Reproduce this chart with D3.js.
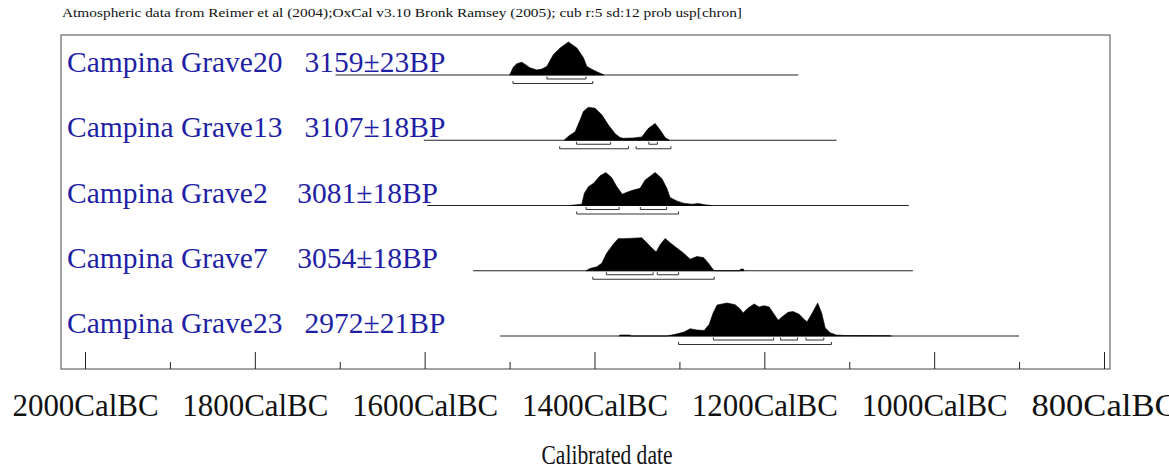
<!DOCTYPE html>
<html>
<head>
<meta charset="utf-8">
<script src="https://cdn.jsdelivr.net/npm/d3@7"></script>
<style>
  html, body { margin: 0; padding: 0; background: #fff; }
  svg { display: block; }
  text { font-family: "Liberation Serif", "Times New Roman", serif; }
</style>
</head>
<body>
<svg id="chart" width="1169" height="470"></svg>
<script>
// ---------- DATA ----------
const titleText = "Atmospheric data from Reimer et al (2004);OxCal v3.10 Bronk Ramsey (2005); cub r:5 sd:12 prob usp[chron]";
const axisTitle = "Calibrated date";

const sampleNames = ["Campina Grave20", "Campina Grave13", "Campina Grave2", "Campina Grave7", "Campina Grave23"];
const sampleDates = ["3159\u00B123BP", "3107\u00B118BP", "3081\u00B118BP", "3054\u00B118BP", "2972\u00B121BP"];

// extent of plotted calibration range (years BC)
const lineRanges = [[1705, 1160], [1601, 1115], [1597, 1030], [1543, 1025], [1511, 900]];

// probability distributions (years BC, relative probability)
const g20Years = [1500, 1495.5, 1491.5, 1485.6, 1476, 1468, 1462, 1456.2, 1448.4, 1440.5, 1430.7, 1420.8, 1413, 1409, 1403.2, 1397.3, 1388.7];
const g20Prob  = [0, 0.24, 0.34, 0.39, 0.22, 0.155, 0.18, 0.26, 0.62, 0.82, 1.0, 0.82, 0.52, 0.26, 0.175, 0.1, 0];

const g13Years = [1435.8, 1430.7, 1422.8, 1417, 1413.1, 1407.2, 1399.3, 1391.4, 1383.6, 1375.7, 1369.8, 1366, 1354.2, 1344.3, 1336.5, 1328.6, 1322.7, 1316.8, 1311.8];
const g13Prob  = [0, 0.12, 0.26, 0.61, 0.87, 1.0, 0.97, 0.77, 0.46, 0.2, 0.08, 0.06, 0.07, 0.1, 0.36, 0.51, 0.31, 0.08, 0];

const g2Years = [1429, 1415, 1411.9, 1407.2, 1401.3, 1393.4, 1386.7, 1379.6, 1373.7, 1367.2, 1362, 1354.2, 1346.3, 1340.4, 1328.6, 1320.7, 1314.8, 1311, 1303.1, 1295.3, 1285.4, 1277.6, 1269.7, 1261.8];
const g2Prob  = [0, 0.04, 0.37, 0.57, 0.67, 0.9, 1.0, 0.84, 0.57, 0.34, 0.4, 0.47, 0.52, 0.77, 1.0, 0.82, 0.52, 0.24, 0.14, 0.07, 0.04, 0.06, 0.02, 0];

const g7Years = [1410.2, 1405.2, 1397.3, 1391.4, 1385.5, 1377.7, 1371.8, 1367.8, 1360, 1344.3, 1338.4, 1332.5, 1327.4, 1322.7, 1316.8, 1311, 1303.1, 1295.3, 1287.4, 1279.5, 1271.7, 1265.8, 1259.9, 1257.9, 1229, 1228, 1224.5, 1224];
const g7Prob  = [0, 0.07, 0.12, 0.23, 0.54, 0.81, 0.98, 0.97, 0.98, 1.0, 0.85, 0.69, 0.57, 0.79, 0.98, 0.85, 0.69, 0.54, 0.35, 0.43, 0.4, 0.23, 0.02, 0, 0, 0.05, 0.05, 0];

const g23Years = [1371, 1370, 1358, 1357, 1314.8, 1305.1, 1294.5, 1287.4, 1279.2, 1270.9, 1265, 1260.3, 1255.6, 1243.8, 1234.4, 1228.5, 1225, 1219.1, 1212, 1206.1, 1200.2, 1194.3, 1188.5, 1183.7, 1179, 1172, 1166.1, 1159, 1153.1, 1149.6, 1143.7, 1137.2, 1132.5, 1128.4, 1122.5, 1115.4, 1104.8, 1051.8, 1050.6];
const g23Prob  = [0, 0.03, 0.03, 0, 0, 0.05, 0.12, 0.22, 0.18, 0.17, 0.35, 0.7, 0.94, 1.0, 0.95, 0.82, 0.7, 0.85, 0.97, 0.88, 0.92, 0.88, 0.66, 0.48, 0.58, 0.72, 0.74, 0.66, 0.5, 0.43, 0.69, 1.0, 0.7, 0.25, 0.1, 0.03, 0.015, 0.01, 0];

const distYears = [g20Years, g13Years, g2Years, g7Years, g23Years];
const distProb  = [g20Prob, g13Prob, g2Prob, g7Prob, g23Prob];

// highest probability ranges (years BC)
const ranges68 = [
  [[1456, 1410]],
  [[1421, 1381], [1336, 1326]],
  [[1410, 1371], [1346, 1315]],
  [[1386, 1331], [1326, 1301]],
  [[1260, 1189], [1181, 1161], [1151, 1130]]
];
const ranges95 = [
  [[1496, 1402]],
  [[1441, 1360], [1351, 1310]],
  [[1421, 1301]],
  [[1402, 1259]],
  [[1301, 1121]]
];

const tickYears = d3.range(2000, 799, -100);
const labelYears = [2000, 1800, 1600, 1400, 1200, 1000, 800];

// ---------- LAYOUT ----------
const svg = d3.select("#chart");
const box = { left: 61, top: 35, right: 1110, bottom: 369 };
const x = d3.scaleLinear().domain([2000, 800]).range([85, 1104]);
const rowY = d3.scaleLinear().domain([0, 4]).range([75, 336]);
const peakH = 33;
const ink = "#222";

svg.append("rect").attr("width", 1169).attr("height", 470).attr("fill", "#fff");

// title
svg.append("text")
  .attr("x", 62).attr("y", 17)
  .attr("font-size", 12)
  .attr("textLength", 680).attr("lengthAdjust", "spacingAndGlyphs")
  .attr("fill", "#111")
  .text(titleText);

// frame
svg.append("rect")
  .attr("x", box.left).attr("y", box.top)
  .attr("width", box.right - box.left).attr("height", box.bottom - box.top)
  .attr("fill", "none").attr("stroke", "#666").attr("stroke-width", 1.2);

// rows
sampleNames.forEach((name, i) => {
  const y0 = rowY(i);
  const g = svg.append("g");

  g.append("text")
    .attr("x", 67).attr("y", y0 - 3)
    .attr("font-size", 29.5)
    .attr("fill", "#1f1fa6")
    .style("white-space", "pre")
    .attr("xml:space", "preserve")
    .text(name.padEnd(18, " ") + sampleDates[i]);

  g.append("line")
    .attr("x1", x(lineRanges[i][0])).attr("x2", x(lineRanges[i][1]))
    .attr("y1", y0).attr("y2", y0)
    .attr("stroke", "#222").attr("stroke-width", 1);

  const pts = distYears[i].map((yr, k) => [yr, distProb[i][k]]);
  const area = d3.area()
    .x(d => x(d[0]))
    .y0(y0)
    .y1(d => y0 - d[1] * peakH)
    .curve(d3.curveLinear);
  g.append("path").datum(pts).attr("d", area).attr("fill", "#000").attr("stroke", "#000").attr("stroke-width", 0.6);

  const bracket = (r, yy, h) => `M${x(r[0])},${yy - h}V${yy}H${x(r[1])}V${yy - h}`;
  ranges68[i].forEach(r => {
    g.append("path").attr("d", bracket(r, y0 + 4, 2.5)).attr("fill", "none").attr("stroke", "#333").attr("stroke-width", 1);
  });
  ranges95[i].forEach(r => {
    g.append("path").attr("d", bracket(r, y0 + 8.5, 2.5)).attr("fill", "none").attr("stroke", "#333").attr("stroke-width", 1);
  });
});

// axis
const axis = d3.axisBottom(x)
  .tickValues(tickYears)
  .tickSize(-17)
  .tickSizeOuter(0)
  .tickFormat(d => labelYears.includes(d) ? d + "CalBC" : "");

const ag = svg.append("g").attr("transform", `translate(0,${box.bottom})`).call(axis);
ag.attr("font-family", null);
ag.select(".domain").remove();
ag.selectAll(".tick line")
  .attr("y2", d => labelYears.includes(d) ? -17 : -7)
  .attr("stroke", ink);
ag.selectAll(".tick text")
  .attr("y", 47).attr("dy", 0)
  .attr("fill", "#111")
  .style("font-family", "'Liberation Serif', 'Times New Roman', serif")
  .attr("font-size", 32)
  .attr("textLength", d => labelYears.includes(d) ? 146 : null)
  .attr("lengthAdjust", "spacingAndGlyphs");

// axis title
svg.append("text")
  .attr("x", 607).attr("y", 464)
  .attr("text-anchor", "middle")
  .attr("font-size", 27)
  .attr("textLength", 131).attr("lengthAdjust", "spacingAndGlyphs")
  .attr("fill", "#111")
  .text(axisTitle);
</script>
</body>
</html>
